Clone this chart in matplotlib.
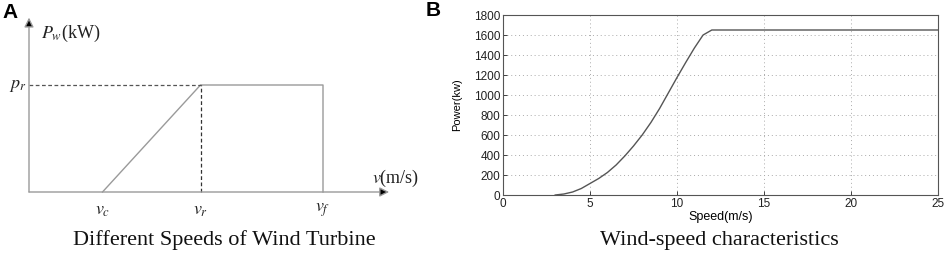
import matplotlib
matplotlib.use("Agg")
import matplotlib.pyplot as plt
import numpy as np

plt.rcParams['mathtext.fontset'] = 'stix'

# panel A: schematic power curve (schematic units)
v_c = 3.0
v_r = 7.0
v_f = 12.0
p_r = 1.0
v_axis_end = 14.7
p_axis_end = 1.63

# panel B: wind-speed characteristics
speed = [3, 3.5, 4, 4.5, 5, 5.5, 6, 6.5, 7, 7.5, 8, 8.5, 9, 9.5, 10, 10.5, 11, 11.5, 12, 25]
power = [0, 10, 30, 65, 115, 165, 225, 300, 390, 490, 600, 725, 865, 1020, 1175, 1325, 1470, 1600, 1650, 1650]
x_ticks = [0, 5, 10, 15, 20, 25]
y_ticks = [0, 200, 400, 600, 800, 1000, 1200, 1400, 1600, 1800]

W, H = 948, 256
fig = plt.figure(figsize=(W / 100, H / 100), dpi=100)

# ---- panel A ----
ax_a = fig.add_axes([0, 0, 474 / W, 1])
ax_a.axis("off")
sc_x, sc_y = 24.5, 107.0
ax_a.set_xlim(-29 / sc_x, (474 - 29) / sc_x)
ax_a.set_ylim(-64 / sc_y, (256 - 64) / sc_y)

gray = "#9a9a9a"
# axes with arrows
ax_a.annotate("", xy=(v_axis_end, 0), xytext=(0, 0),
              arrowprops=dict(arrowstyle="-|>", color=gray, lw=1.0, mutation_scale=14,
                              shrinkA=0, shrinkB=0, fc="black", ec=gray))
ax_a.annotate("", xy=(0, p_axis_end), xytext=(0, 0),
              arrowprops=dict(arrowstyle="-|>", color=gray, lw=1.0, mutation_scale=14,
                              shrinkA=0, shrinkB=0, fc="black", ec=gray))
# power curve
ax_a.plot([v_c, v_r, v_f, v_f], [0, p_r, p_r, 0], color=gray, lw=1.0)
ax_a.plot([0, v_r], [p_r, p_r], color="#555555", lw=0.9, ls=(0, (3, 2)))
ax_a.plot([v_r, v_r], [0, p_r], color="#333333", lw=0.9, ls=(0, (3, 2)))

tk = dict(fontsize=13, color="#222222", family="Liberation Serif")
ax_a.text(0.5, 1.48, r"$P_w$(kW)", ha="left", va="center", **tk)
ax_a.text(-0.1, p_r, r"$p_r$", ha="right", va="center", **tk)
ax_a.text(v_axis_end - 0.7, 0.13, r"$v$(m/s)", ha="left", va="center", **tk)
for v, lab in [(v_c, r"$v_c$"), (v_r, r"$v_r$"), (v_f, r"$v_f$")]:
    ax_a.text(v, -0.17, lab, ha="center", va="center", **tk)
ax_a.text(0.474, 16 / 256, "Different Speeds of Wind Turbine", transform=ax_a.transAxes,
          ha="center", va="center", fontsize=16, family="Liberation Serif", color="#111111")

# ---- panel B ----
ax_b = fig.add_axes([503 / W, (256 - 195) / H, 435 / W, 180 / H])
ax_b.plot(speed, power, color="#555555", lw=1.0)
ax_b.set_xlim(0, 25)
ax_b.set_ylim(0, 1800)
ax_b.set_xticks(x_ticks)
ax_b.set_yticks(y_ticks)
ax_b.tick_params(direction="in", length=3, width=0.6, labelsize=8.5, pad=2, colors="#222222")
for lab in ax_b.get_xticklabels() + ax_b.get_yticklabels():
    lab.set_family("Liberation Sans")
ax_b.grid(True, ls=(0, (1, 3)), color="#aaaaaa", lw=0.7)
for s in ax_b.spines.values():
    s.set_color("#555555")
    s.set_linewidth(0.8)
ax_b.set_xlabel("Speed(m/s)", fontsize=9, family="Liberation Sans", labelpad=1)
ax_b.set_ylabel("Power(kw)", fontsize=8, family="Liberation Sans", labelpad=8)
fig.text(719 / W, 1 - 241 / H, "Wind-speed characteristics", ha="center", va="center",
         fontsize=16, family="Liberation Serif", color="#111111")

# panel letters
fig.text(2 / W, 1 - 12 / H, "A", fontsize=15, fontweight="bold", family="Liberation Sans", va="center")
fig.text(426 / W, 1 - 10 / H, "B", fontsize=15, fontweight="bold", family="Liberation Sans", va="center")

fig.savefig("out.png", dpi=100)
